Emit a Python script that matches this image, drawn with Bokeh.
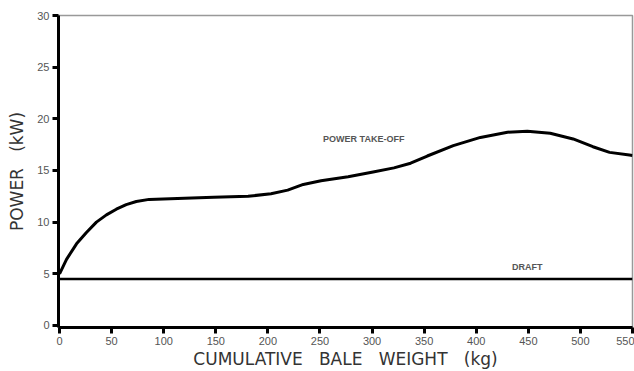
from bokeh.plotting import figure
from bokeh.models import Range1d, FixedTicker, Label
from bokeh.embed import file_html
from bokeh.resources import INLINE

# Power take-off curve (kW) vs cumulative bale weight (kg)
pto_x = [0, 6.7, 16.3, 25.8, 35.4, 45, 54.5, 64, 73.7, 86, 120, 148, 181, 203, 219, 234, 251,
         277, 301, 321, 337, 353, 378, 404, 430, 449, 471, 493, 512, 528, 547, 550]
pto_y = [5.0, 6.4, 7.9, 9.0, 10.0, 10.7, 11.25, 11.7, 12.0, 12.2, 12.3, 12.4, 12.5, 12.75, 13.1, 13.65, 14.0,
         14.4, 14.85, 15.25, 15.7, 16.4, 17.4, 18.2, 18.7, 18.8, 18.6, 18.05, 17.3, 16.75, 16.5, 16.45]

# Draft (kW), constant
draft_x = [0, 550]
draft_y = [4.5, 4.5]

x_ticks = [0, 50, 100, 150, 200, 250, 300, 350, 400, 450, 500, 550]
y_ticks = [0, 5, 10, 15, 20, 25, 30]

p = figure(frame_width=574, frame_height=312, output_backend="svg", toolbar_location=None,
           x_range=Range1d(-1, 550), y_range=Range1d(-0.2, 30),
           min_border_left=58, min_border_right=2, min_border_top=15, min_border_bottom=44)

p.line(pto_x, pto_y, line_color="black", line_width=3, line_join="round")
p.line(draft_x, draft_y, line_color="black", line_width=2.5)

p.xgrid.visible = False
p.ygrid.visible = False
p.outline_line_color = "#999999"
p.outline_line_width = 1.5
p.background_fill_color = "white"
p.border_fill_color = "white"

p.xaxis.ticker = FixedTicker(ticks=x_ticks)
p.yaxis.ticker = FixedTicker(ticks=y_ticks)

for ax in (p.xaxis, p.yaxis):
    ax.axis_line_width = 3
    ax.axis_line_color = "black"
    ax.major_tick_line_width = 3
    ax.major_tick_line_color = "black"
    ax.major_tick_out = 6
    ax.major_tick_in = 0
    ax.minor_tick_out = 0
    ax.minor_tick_in = 0
    ax.major_label_text_font = "Liberation Sans"
    ax.major_label_text_font_size = "11px"
    ax.major_label_text_color = "#555555"
    ax.axis_label_text_font = "DejaVu Sans"
    ax.axis_label_text_font_size = "17px"
    ax.axis_label_text_font_style = "normal"
    ax.axis_label_text_color = "#333333"

NB = "\u00a0"
p.xaxis.axis_label = "CUMULATIVE" + NB * 3 + "BALE" + NB * 3 + "WEIGHT" + NB * 3 + "(kg)"
p.yaxis.axis_label = "POWER" + NB * 3 + "(kW)"
p.xaxis.major_label_standoff = 3
p.yaxis.major_label_standoff = 3
p.xaxis.axis_label_standoff = 1
p.yaxis.axis_label_standoff = 7

p.add_layout(Label(x=292, y=18.0, text="POWER TAKE-OFF", text_align="center", text_baseline="middle",
                   text_font="Liberation Sans", text_font_size="9px", text_font_style="bold",
                   text_color="#555555"))
p.add_layout(Label(x=449, y=5.7, text="DRAFT", text_align="center", text_baseline="middle",
                   text_font="Liberation Sans", text_font_size="9px", text_font_style="bold",
                   text_color="#555555"))

open("out.html", "w").write(file_html(p, INLINE))
